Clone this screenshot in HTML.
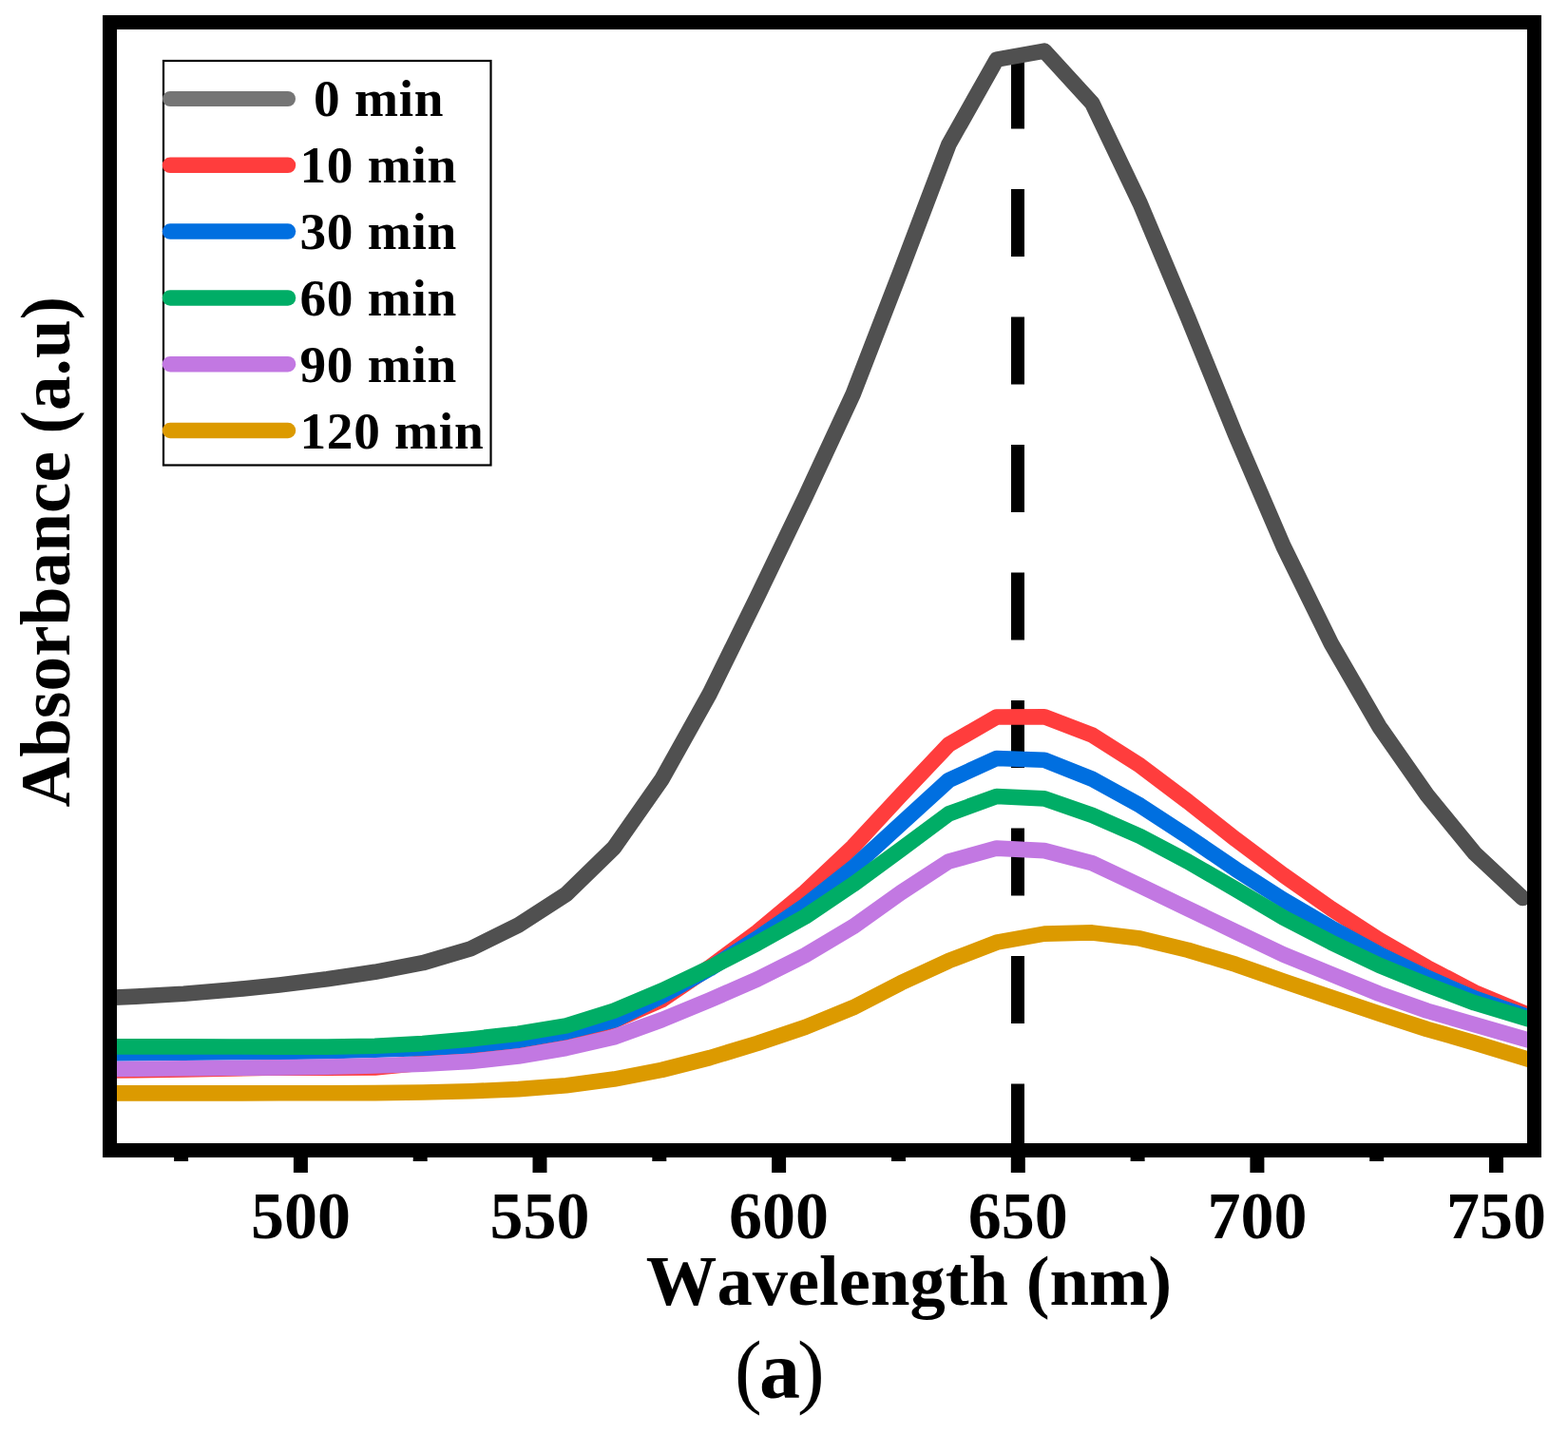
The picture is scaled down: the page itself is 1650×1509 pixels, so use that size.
<!DOCTYPE html>
<html><head><meta charset="utf-8"><style>
html,body{margin:0;padding:0;background:#fff;}
svg{display:block;}
text{font-family:"Liberation Serif","Times New Roman",serif;font-weight:bold;fill:#000;font-kerning:none;}
</style></head><body>
<svg width="1650" height="1509" viewBox="0 0 1650 1509">
<rect width="1650" height="1509" fill="#fff"/>
<defs><clipPath id="pa"><rect x="115.5" y="23.5" width="1499" height="1187"/></clipPath></defs>
<g clip-path="url(#pa)">
<line x1="1071" y1="64.6" x2="1071" y2="1215" stroke="#000" stroke-width="14" stroke-dasharray="71 63.5"/>
<g fill="none" stroke-width="16.6" stroke-linejoin="round" stroke-linecap="round">
<polyline points="92.6,1050.9 142.9,1048.6 193.3,1045.8 243.6,1041.6 293.9,1036.5 344.2,1030.3 394.5,1022.8 444.9,1013.2 495.2,998.4 545.5,973.5 595.8,941.0 646.1,892.0 696.5,820.0 746.8,729.9 797.1,627.6 847.4,523.0 897.7,414.7 948.1,284.5 998.4,152.0 1048.7,62.7 1099.0,53.6 1149.3,108.6 1199.7,214.1 1250.0,334.0 1300.3,458.0 1350.6,575.0 1400.9,677.4 1451.3,764.4 1501.6,836.4 1551.9,898.0 1602.2,945.0" stroke="#505050"/>
<polyline points="92.6,1126.6 142.9,1126.1 193.3,1125.5 243.6,1124.5 293.9,1123.5 344.2,1123.7 394.5,1123.5 444.9,1118.6 495.2,1109.0 545.5,1099.2 595.8,1089.1 646.1,1074.2 696.5,1052.2 746.8,1017.9 797.1,980.7 847.4,938.5 897.7,891.0 948.1,836.7 998.4,783.5 1048.7,754.5 1099.0,754.2 1149.3,773.5 1199.7,805.6 1250.0,843.5 1300.3,883.2 1350.6,920.9 1400.9,956.3 1451.3,988.9 1501.6,1018.0 1551.9,1044.3 1602.2,1065.5 1652.5,1086.3" stroke="#FF3D3D"/>
<polyline points="92.6,1108.7 142.9,1108.2 193.3,1107.7 243.6,1107.3 293.9,1106.9 344.2,1106.1 394.5,1104.6 444.9,1102.9 495.2,1100.1 545.5,1094.7 595.8,1085.8 646.1,1073.5 696.5,1048.0 746.8,1019.4 797.1,987.3 847.4,952.8 897.7,913.0 948.1,866.9 998.4,821.0 1048.7,798.0 1099.0,799.8 1149.3,819.8 1199.7,847.6 1250.0,880.4 1300.3,914.7 1350.6,947.0 1400.9,976.4 1451.3,1004.1 1501.6,1028.6 1551.9,1050.7 1602.2,1068.1 1652.5,1085.2" stroke="#006FE0"/>
<polyline points="92.6,1101.4 142.9,1101.4 193.3,1101.4 243.6,1101.5 293.9,1101.6 344.2,1101.6 394.5,1100.8 444.9,1098.1 495.2,1093.4 545.5,1087.8 595.8,1079.4 646.1,1063.7 696.5,1042.5 746.8,1018.6 797.1,992.6 847.4,964.5 897.7,930.7 948.1,893.7 998.4,856.4 1048.7,838.0 1099.0,840.4 1149.3,857.8 1199.7,880.0 1250.0,906.6 1300.3,935.7 1350.6,965.7 1400.9,991.7 1451.3,1015.8 1501.6,1036.3 1551.9,1055.4 1602.2,1070.5 1652.5,1085.3" stroke="#00AD66"/>
<polyline points="92.6,1125.2 142.9,1124.7 193.3,1124.2 243.6,1123.8 293.9,1123.4 344.2,1122.6 394.5,1121.4 444.9,1119.7 495.2,1116.9 545.5,1111.6 595.8,1103.0 646.1,1091.4 696.5,1073.1 746.8,1052.4 797.1,1030.4 847.4,1005.2 897.7,975.2 948.1,939.2 998.4,906.4 1048.7,892.6 1099.0,895.1 1149.3,908.2 1199.7,932.0 1250.0,956.2 1300.3,980.5 1350.6,1004.5 1400.9,1025.1 1451.3,1045.8 1501.6,1063.6 1551.9,1078.2 1602.2,1092.7 1652.5,1107.1" stroke="#C278E2"/>
<polyline points="92.6,1150.4 142.9,1150.4 193.3,1150.4 243.6,1150.4 293.9,1150.3 344.2,1150.3 394.5,1150.1 444.9,1149.5 495.2,1148.3 545.5,1146.1 595.8,1142.2 646.1,1135.6 696.5,1125.9 746.8,1113.1 797.1,1097.9 847.4,1080.9 897.7,1060.3 948.1,1034.3 998.4,1011.1 1048.7,991.7 1099.0,982.6 1149.3,981.4 1199.7,987.6 1250.0,999.7 1300.3,1014.8 1350.6,1032.5 1400.9,1049.7 1451.3,1066.6 1501.6,1083.0 1551.9,1097.4 1602.2,1112.9 1652.5,1128.6" stroke="#DC9A00"/>
</g>
</g>
<rect x="115.5" y="23.5" width="1499" height="1187" fill="none" stroke="#000" stroke-width="15"/>
<g fill="#000">
<rect x="308.9" y="1210" width="15" height="24" />
<rect x="560.5" y="1210" width="15" height="24" />
<rect x="812.1" y="1210" width="15" height="24" />
<rect x="1063.8" y="1210" width="15" height="24" />
<rect x="1315.4" y="1210" width="15" height="24" />
<rect x="1567.0" y="1210" width="15" height="24" />
<rect x="183.1" y="1210" width="15" height="12" />
<rect x="434.7" y="1210" width="15" height="12" />
<rect x="686.3" y="1210" width="15" height="12" />
<rect x="938.0" y="1210" width="15" height="12" />
<rect x="1189.6" y="1210" width="15" height="12" />
<rect x="1441.2" y="1210" width="15" height="12" />
</g>
<g font-size="70">
<text x="316.4" y="1303" text-anchor="middle">500</text>
<text x="568.0" y="1303" text-anchor="middle">550</text>
<text x="819.6" y="1303" text-anchor="middle">600</text>
<text x="1071.3" y="1303" text-anchor="middle">650</text>
<text x="1322.9" y="1303" text-anchor="middle">700</text>
<text x="1574.5" y="1303" text-anchor="middle">750</text>
</g>
<g font-size="55.3">
<rect x="172" y="64" width="344.5" height="425.5" fill="none" stroke="#000" stroke-width="2.2"/>
<line x1="179" y1="104.0" x2="303" y2="104.0" stroke="#757575" stroke-width="16" stroke-linecap="round"/>
<text x="315.5" y="122.0" letter-spacing="0.7" xml:space="preserve">&#160;0 min</text>
<line x1="179" y1="173.8" x2="303" y2="173.8" stroke="#FF3D3D" stroke-width="16.5" stroke-linecap="round"/>
<text x="315.5" y="192.0" letter-spacing="0.7" xml:space="preserve">10 min</text>
<line x1="179" y1="243.6" x2="303" y2="243.6" stroke="#006FE0" stroke-width="16.5" stroke-linecap="round"/>
<text x="315.5" y="262.0" letter-spacing="0.7" xml:space="preserve">30 min</text>
<line x1="179" y1="313.4" x2="303" y2="313.4" stroke="#00AD66" stroke-width="16.5" stroke-linecap="round"/>
<text x="315.5" y="332.0" letter-spacing="0.7" xml:space="preserve">60 min</text>
<line x1="179" y1="383.2" x2="303" y2="383.2" stroke="#C278E2" stroke-width="16.5" stroke-linecap="round"/>
<text x="315.5" y="402.0" letter-spacing="0.7" xml:space="preserve">90 min</text>
<line x1="179" y1="453.0" x2="303" y2="453.0" stroke="#DC9A00" stroke-width="16.5" stroke-linecap="round"/>
<text x="315.5" y="472.0" letter-spacing="0.7" xml:space="preserve">120 min</text>
</g>
<text x="679.8" y="1373" font-size="74.6">Wavelength (nm)</text>
<text transform="translate(72.6,849.6) rotate(-90)" x="0" y="0" font-size="73" letter-spacing="0.15">Absorbance (a.u)</text>
<text x="773.1" y="1471" font-size="86" letter-spacing="-2.85"><tspan font-weight="normal">(</tspan>a<tspan font-weight="normal">)</tspan></text>
</svg>
</body></html>
